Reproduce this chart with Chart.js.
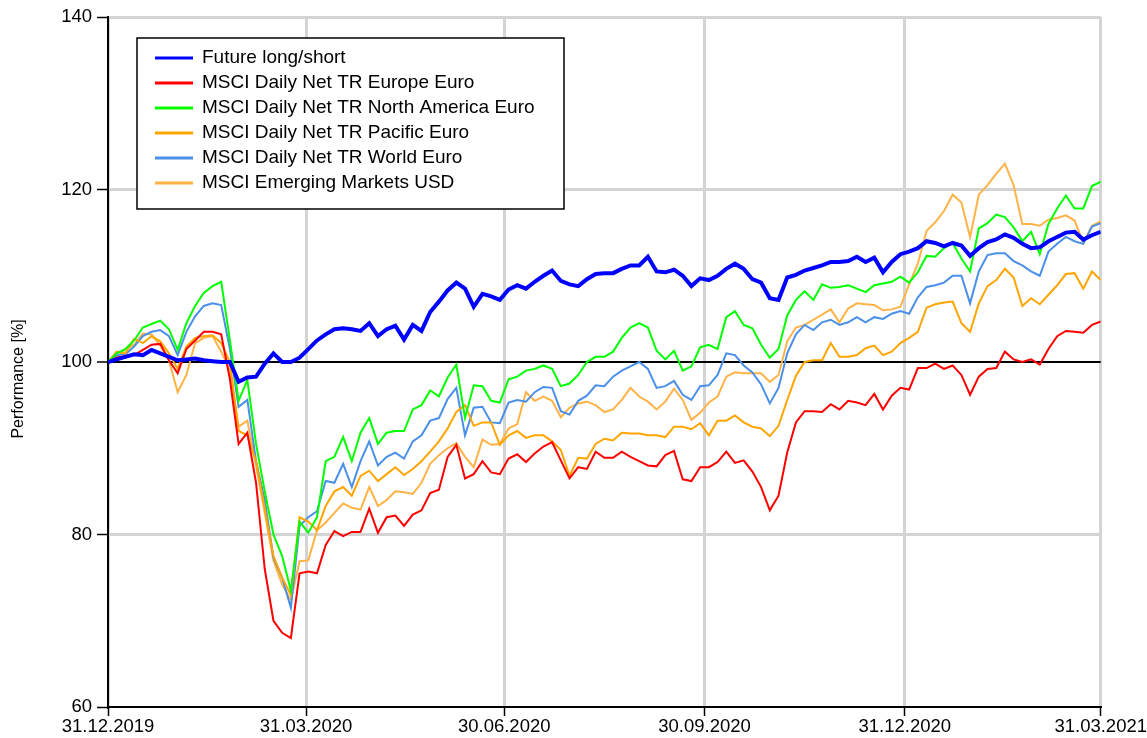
<!DOCTYPE html>
<html>
<head>
<meta charset="utf-8">
<script src="https://cdn.jsdelivr.net/npm/chart.js@4.4.1/dist/chart.umd.min.js"></script>
<style>
  body { margin: 0; background: #fff; }
  #wrap { width: 1147px; height: 738px; }
</style>
</head>
<body>
<div id="wrap"><canvas id="perfChart" width="1147" height="738"></canvas></div>
<script>
// x axis: calendar days since 31.12.2019, sampled every 4 days
const days = Array.from({ length: 115 }, (_, i) => i * 4);
const tickDays = [0, 91, 182, 274, 366, 456];
const tickLabels = ['31.12.2019', '31.03.2020', '30.06.2020', '30.09.2020', '31.12.2020', '31.03.2021'];

const futureLS = [100, 100.3, 100.6, 100.9, 100.8, 101.4, 101, 100.6, 100.2, 100.3,
  100.4, 100.2, 100.1, 100, 100, 97.7, 98.2, 98.3, 99.8, 101,
  100, 100, 100.5, 101.5, 102.5, 103.2, 103.8, 103.9, 103.8, 103.6,
  104.5, 103, 103.8, 104.2, 102.6, 104.3, 103.6, 105.8, 107, 108.3,
  109.2, 108.5, 106.4, 107.9, 107.6, 107.2, 108.4, 108.9, 108.5, 109.3,
  110, 110.6, 109.4, 109, 108.8, 109.6, 110.2, 110.3, 110.3, 110.8,
  111.2, 111.2, 112.2, 110.5, 110.4, 110.7, 110, 108.8, 109.7, 109.5,
  110, 110.8, 111.4, 110.8, 109.6, 109.2, 107.4, 107.2, 109.8, 110.1,
  110.6, 110.9, 111.2, 111.6, 111.6, 111.7, 112.2, 111.6, 112.1, 110.4,
  111.6, 112.5, 112.8, 113.2, 114, 113.8, 113.4, 113.8, 113.5, 112.3,
  113.2, 113.9, 114.2, 114.8, 114.4, 113.7, 113.2, 113.3, 114, 114.5,
  115, 115.1, 114.2, 114.7, 115.1];

const europe = [100, 100.5, 100.7, 100.8, 101.4, 102, 102.1, 100.2, 98.7, 101.5,
  102.5, 103.5, 103.5, 103.2, 98, 90.5, 91.8, 86, 76, 70,
  68.6, 68, 75.5, 75.7, 75.5, 78.8, 80.4, 79.8, 80.3, 80.3,
  83, 80.2, 82, 82.2, 81, 82.3, 82.8, 84.8, 85.2, 89,
  90.4, 86.5, 87, 88.5, 87.2, 87, 88.8, 89.3, 88.4, 89.4,
  90.2, 90.7, 88.6, 86.5, 87.8, 87.6, 89.6, 88.9, 88.9, 89.6,
  89, 88.5, 88, 87.9, 89.2, 89.7, 86.4, 86.2, 87.8, 87.8,
  88.4, 89.6, 88.3, 88.6, 87.3, 85.5, 82.8, 84.5, 89.5, 93,
  94.3, 94.3, 94.2, 95.1, 94.5, 95.5, 95.3, 95, 96.3, 94.5,
  96.1, 97, 96.8, 99.3, 99.3, 99.8, 99.2, 99.6, 98.5, 96.2,
  98.3, 99.2, 99.3, 101.2, 100.3, 100, 100.3, 99.7, 101.5, 103,
  103.6, 103.5, 103.4, 104.3, 104.7];

const northAmerica = [100, 101, 101.5, 102.5, 104, 104.4, 104.8, 103.8, 101.4, 104.5,
  106.5, 108, 108.8, 109.3, 102.5, 95.5, 97.9, 90.5, 85, 80,
  77.5, 73.5, 81.5, 80.2, 82, 88.5, 89, 91.3, 88.5, 91.8,
  93.5, 90.5, 91.8, 92, 92, 94.5, 95, 96.7, 96, 98.2,
  99.7, 93.5, 97.3, 97.2, 95.5, 95.3, 98, 98.3, 99, 99.2,
  99.6, 99.2, 97.2, 97.5, 98.5, 100, 100.6, 100.6, 101.2, 102.8,
  104, 104.5, 104, 101.3, 100.3, 101.3, 99, 99.5, 101.7, 102,
  101.5, 105.2, 105.9, 104.3, 103.9, 102, 100.5, 101.5, 105.4, 107.2,
  108.2, 107.2, 109, 108.6, 108.7, 108.9, 108.5, 108.1, 108.9, 109.1,
  109.3, 109.9, 109.2, 110.4, 112.3, 112.2, 113.2, 113.8, 112, 110.5,
  115.5, 116.1, 117.1, 116.8, 115.6, 114, 115.1, 112.5, 116, 117.8,
  119.3, 117.8, 117.8, 120.4, 120.9];

const pacific = [100, 101.2, 101, 102.7, 102.2, 103, 102.4, 101, 99.2, 101.8,
  102.8, 103, 103.1, 102.2, 100, 92, 91.5, 88.5, 83, 77.5,
  75, 73, 82, 81.5, 80.5, 83.3, 85, 85.5, 84.5, 86.8,
  87.4, 86.2, 87, 87.8, 86.9, 87.6, 88.5, 89.6, 90.8, 92.3,
  94.2, 95, 92.6, 93, 93, 90.4, 91.5, 92, 91.2, 91.5,
  91.5, 90.8, 89.8, 86.8, 88.9, 88.8, 90.5, 91.1, 90.9, 91.8,
  91.7, 91.7, 91.5, 91.5, 91.3, 92.5, 92.5, 92.2, 92.9, 91.5,
  93.2, 93.2, 93.8, 93, 92.5, 92.3, 91.4, 92.6, 95.6, 98.4,
  100, 100.2, 100.2, 102.2, 100.6, 100.6, 100.8, 101.6, 101.9, 100.8,
  101.2, 102.2, 102.8, 103.5, 106.3, 106.7, 106.9, 107, 104.5, 103.5,
  106.8, 108.8, 109.5, 110.8, 109.8, 106.5, 107.4, 106.7, 107.8, 108.9,
  110.2, 110.3, 108.5, 110.5, 109.5];

const world = [100, 100.8, 100.9, 101.8, 103, 103.5, 103.7, 103, 100.8, 103.5,
  105.3, 106.5, 106.8, 106.6, 101.5, 94.8, 95.6, 88.5, 84, 77.3,
  75, 71.5, 81, 82, 82.7, 86.2, 86, 88.2, 85.5, 88.5,
  90.8, 88, 89, 89.5, 88.8, 90.8, 91.5, 93.2, 93.5, 95.7,
  97, 91.5, 94.7, 94.8, 93, 92.9, 95.3, 95.6, 95.4, 96.5,
  97.1, 97, 94.3, 93.9, 95.5, 96.1, 97.3, 97.2, 98.3, 99,
  99.5, 100, 99.2, 97, 97.2, 97.8, 96.2, 95.6, 97.2, 97.3,
  98.5, 101, 100.8, 99.6, 98.8, 97.4, 95.2, 97, 101, 103.2,
  104.3, 103.7, 104.6, 104.9, 104.3, 104.6, 105.2, 104.6, 105.2, 105,
  105.6, 105.9, 105.6, 107.5, 108.7, 108.9, 109.2, 110, 110, 106.8,
  110.5, 112.4, 112.6, 112.6, 111.7, 111.2, 110.5, 110, 112.8, 113.7,
  114.5, 114, 113.7, 115.7, 116.1];

const emerging = [100, 100.5, 101.5, 102, 103.3, 103.2, 101.9, 100.2, 96.5, 98.5,
  102.2, 102.8, 103, 101.2, 99.1, 92.5, 93.2, 88, 82.5, 77,
  74.2, 72.4, 76.9, 77, 80.5, 81.4, 82.5, 83.6, 83.1, 82.9,
  85.5, 83.3, 84, 85, 84.9, 84.7, 86, 88.2, 89.2, 90,
  90.6, 89, 87.8, 91, 90.4, 90.5, 92.3, 92.8, 96.5, 95.5,
  96, 95.5, 93.6, 94.7, 95.2, 95.4, 95, 94.2, 94.5, 95.6,
  97, 96, 95.4, 94.5, 95.4, 96.9, 95.6, 93.3, 94.1, 95.3,
  96, 98.3, 98.8, 98.7, 98.7, 98.7, 97.7, 98.5, 102.4, 104,
  104.3, 104.9, 105.5, 106.1, 104.6, 106.2, 106.8, 106.7, 106.6, 106,
  106.1, 106.4, 109, 111.4, 115.2, 116.2, 117.5, 119.4, 118.5, 114.5,
  119.4, 120.5, 121.8, 123, 120.5, 116, 116, 115.8, 116.5, 116.7,
  117, 116.4, 113.8, 115.8, 116.3];

const seriesNames = [
  'Future long/short',
  'MSCI Daily Net TR Europe Euro',
  'MSCI Daily Net TR North America Euro',
  'MSCI Daily Net TR Pacific Euro',
  'MSCI Daily Net TR World Euro',
  'MSCI Emerging Markets USD'
];
const seriesData = [futureLS, europe, northAmerica, pacific, world, emerging];
const seriesColors = ['#0000ff', '#ff0000', '#00ff00', '#ffa500', '#4a90e8', '#ffb347'];
const seriesWidths = [4, 2, 2, 2, 2, 2];

const FONT = 'Liberation Sans, Arial, sans-serif';

const datasets = seriesData.map((vals, i) => ({
  label: seriesNames[i],
  data: vals.map((v, j) => ({ x: days[j], y: v })),
  borderColor: seriesColors[i],
  backgroundColor: seriesColors[i],
  borderWidth: seriesWidths[i],
  pointRadius: 0,
  tension: 0,
  fill: false
}));

// legend box inside the plot and the rotated y title
const boxLegend = {
  id: 'boxLegend',
  afterDraw(chart) {
    const ctx = chart.ctx;
    const x0 = 137, y0 = 38, w = 427, h = 171;
    ctx.save();
    ctx.fillStyle = '#fff';
    ctx.fillRect(x0, y0, w, h);
    ctx.strokeStyle = '#000';
    ctx.lineWidth = 1.5;
    ctx.strokeRect(x0, y0, w, h);
    ctx.font = '19px ' + FONT;
    ctx.textBaseline = 'middle';
    ctx.fillStyle = '#000';
    chart.data.datasets.forEach((ds, i) => {
      const y = 58 + i * 25;
      ctx.strokeStyle = ds.borderColor;
      ctx.lineWidth = 3;
      ctx.beginPath();
      ctx.moveTo(155, y);
      ctx.lineTo(193, y);
      ctx.stroke();
      ctx.fillText(ds.label, 202, y);
    });

    ctx.translate(19, 379);
    ctx.rotate(-Math.PI / 2);
    ctx.textAlign = 'center';
    ctx.font = '16px ' + FONT;
    ctx.fillText('Performance [%]', 0, 0);
    ctx.restore();
  }
};

new Chart(document.getElementById('perfChart'), {
  type: 'line',
  data: { datasets: datasets },
  options: {
    responsive: false,
    animation: false,
    layout: { padding: { left: 0, top: 17, right: 46, bottom: 0 } },
    plugins: {
      legend: { display: false },
      tooltip: { enabled: false }
    },
    scales: {
      x: {
        type: 'linear',
        min: 0,
        max: 456,
        afterBuildTicks: scale => { scale.ticks = tickDays.map(v => ({ value: v })); },
        afterFit: scale => { scale.height = 31; },
        ticks: {
          autoSkip: false,
          maxRotation: 0,
          padding: 0,
          color: '#000',
          font: { family: FONT, size: 18.5 },
          callback: value => tickLabels[tickDays.indexOf(value)]
        },
        grid: {
          color: '#d4d4d4',
          lineWidth: 3,
          tickColor: '#000',
          tickWidth: 1.5,
          tickLength: 9
        },
        border: { display: true, color: '#000', width: 2 }
      },
      y: {
        min: 60,
        max: 140,
        afterFit: scale => { scale.width = 108; },
        ticks: {
          stepSize: 20,
          padding: 5,
          color: '#000',
          font: { family: FONT, size: 18.5 }
        },
        grid: {
          color: ctx => ctx.tick.value === 100 ? '#000' : (ctx.tick.value === 60 ? 'rgba(0,0,0,0)' : '#d4d4d4'),
          lineWidth: ctx => ctx.tick.value === 100 ? 2 : 3,
          tickColor: '#000',
          tickWidth: 1.5,
          tickLength: 11
        },
        border: { display: true, color: '#000', width: 2 }
      }
    }
  },
  plugins: [boxLegend]
});
</script>
</body>
</html>
